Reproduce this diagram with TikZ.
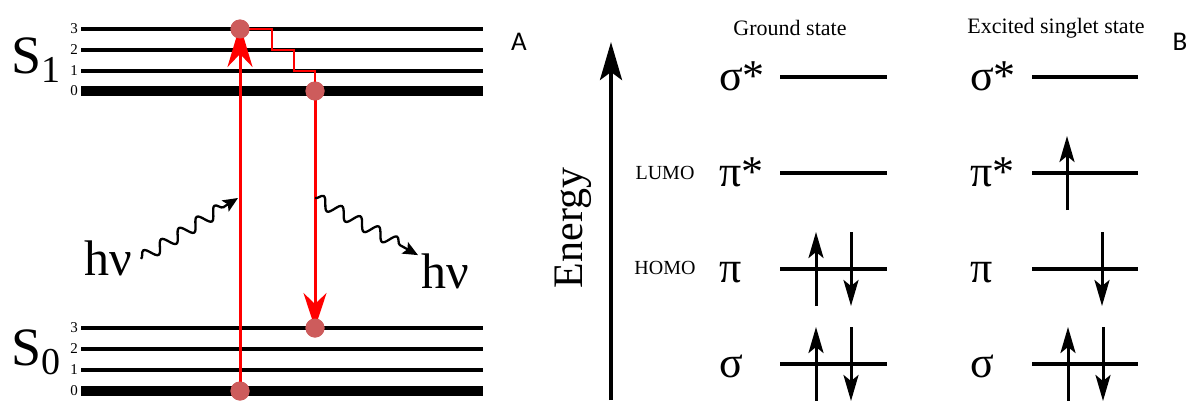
\documentclass[tikz,border=0pt]{standalone}
\usepackage{fontspec}
\setmainfont{Liberation Serif}
\newfontfamily\panelfont{Carlito}
\usepackage{tikz}
\usetikzlibrary{arrows.meta, decorations.pathmorphing}
\definecolor{dotred}{RGB}{205,92,92}
\tikzset{
  level/.style={line width=4pt},
  zero/.style={line width=10pt},
  orbital/.style={line width=3.5pt},
  trans/.style={red, line width=3pt},
  relax/.style={red, line width=2.5pt},
  dot/.style={circle, fill=dotred, minimum size=19pt, inner sep=0pt},
  spin/.style={line width=3pt, -{Stealth[length=26pt, width=15pt, inset=6pt]}},
  axis/.style={line width=4pt, -{Stealth[length=38pt, width=22pt, inset=8pt]}},
  photon/.style={line width=2.3pt, decorate,
    decoration={snake, amplitude=6pt, segment length=21pt, post length=13pt},
    -{Stealth[length=15pt, width=13pt, inset=3pt]}},
  num/.style={anchor=east, inner sep=0pt, font=\fontsize{15}{15}\selectfont},
  greek/.style={anchor=base west, inner sep=0pt, font=\fontsize{44}{44}\selectfont},
  head/.style={font=\fontsize{22}{22}\selectfont},
  small/.style={font=\fontsize{20}{20}\selectfont},
  panel/.style={font=\panelfont\fontsize{27}{27}\selectfont}
}

\begin{document}
\begin{tikzpicture}[x=1pt, y=-1pt]
		\useasboundingbox (0,0) rectangle (1188,400);
		% panel A: vibrational levels
		\foreach \v/\y in {1/71,2/50,3/29} {
			\draw[level] (81,\y) -- (483,\y);
			\node[num] at (78,\y) {\v};
		}
		\foreach \v/\y in {1/370,2/349,3/328} {
			\draw[level] (81,\y) -- (483,\y);
			\node[num] at (78,\y) {\v};
		}
		\draw[zero] (81,91) -- (483,91);
		\node[num] at (78,91) {0};
		\draw[zero] (81,391) -- (483,391);
		\node[num] at (78,391) {0};
		\node[anchor=base west, inner sep=0pt, font=\fontsize{54}{54}\selectfont] (S1) at (11,73)
			{S\raisebox{-9pt}{\fontsize{38}{38}\selectfont 1}};
		\node[anchor=base west, inner sep=0pt, font=\fontsize{54}{54}\selectfont] (S0) at (11,365)
			{S\raisebox{-9pt}{\fontsize{38}{38}\selectfont 0}};
		% transitions
		\node[dot] (a0) at (240,391) {};
		\node[dot] (a3) at (240,29) {};
		\node[dot] (e0) at (315,91) {};
		\node[dot] (e3) at (315,328) {};
		\draw[trans, -{Stealth[length=42pt, width=25pt, inset=13pt]}] (a0.center) -- ([yshift=4pt]a3.center);
		\draw[trans, -{Stealth[length=35pt, width=23pt, inset=11pt]}] (e0.center) -- (e3.center);
		\draw[relax] (a3.center) -| (272,50) -| (294,71) -| (e0.center);
		\foreach \p in {a0,a3,e0,e3} \node[dot] at (\p) {};
		% photons
		\coordinate (absorb) at (238,198);
		\coordinate (emit) at (315,198);
		\node[font=\fontsize{50}{50}\selectfont, inner sep=0pt, anchor=base] (hvin) at (108,275) {hν};
		\node[font=\fontsize{50}{50}\selectfont, inner sep=0pt, anchor=base] (hvout) at (445,288) {hν};
		\draw[photon] ([xshift=9pt,yshift=-1pt]hvin.east) -- (absorb);
		\draw[photon] (emit) -- ([xshift=-3pt,yshift=-2pt]hvout.north west);
		\node[panel] (A) at (519,42) {A};
		% panel B: orbitals
		\coordinate (ebot) at (611,400);
		\coordinate (etop) at (611,42);
		\draw[axis] (ebot) -- (etop);
		\node[rotate=90, anchor=base, inner sep=0pt, font=\fontsize{42}{42}\selectfont] (energy) at (582,228) {Energy};
		\node[head] (gs) at (790,28) {Ground state};
		\node[head] (es) at (1056,28) {Excited singlet state};
		\node[small] (lumo) at (665,173) {LUMO};
		\node[small] (homo) at (665,268) {HOMO};
		\foreach \n/\y/\lab in {ss/77/σ*, ps/173/π*, p/269/π, s/364/σ} {
			\draw[orbital] (780,\y) coordinate (g\n) -- (887,\y);
			\draw[orbital] (1032,\y) coordinate (x\n) -- (1138,\y);
			\node[greek] at (719,{\y+13}) {\lab};
			\node[greek] at (970,{\y+13}) {\lab};
		}
		% electrons
		\foreach \o in {gp,gs,xs} {
			\draw[spin] ([shift={(36,37)}]\o) -- ([shift={(36,-37)}]\o);
			\draw[spin] ([shift={(71,-37)}]\o) -- ([shift={(71,37)}]\o);
		}
		\draw[spin] ([shift={(35,37)}]xps) -- ([shift={(35,-37)}]xps);
		\draw[spin] ([shift={(70,-37)}]xp) -- ([shift={(70,37)}]xp);
		\node[panel] (B) at (1180,42) {B};
	\end{tikzpicture}
\end{document}
